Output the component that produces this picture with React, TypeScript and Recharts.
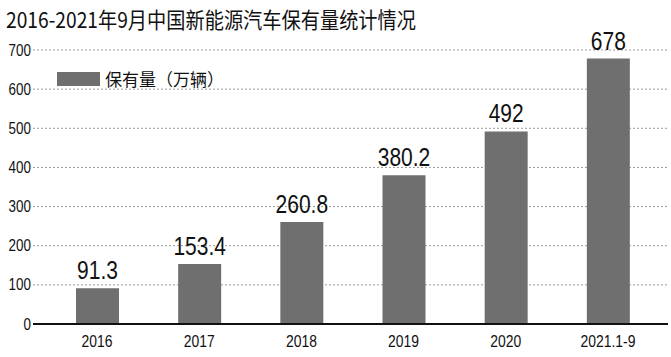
import { BarChart, Bar, XAxis, YAxis, CartesianGrid, LabelList } from 'recharts';

document.body.style.margin = '0';

const years = ['2016', '2017', '2018', '2019', '2020', '2021.1-9'];
const stock = [91.3, 153.4, 260.8, 380.2, 492, 678];
const yTicks = [0, 100, 200, 300, 400, 500, 600, 700];

const data = years.map((year, i) => ({ year, stock: stock[i] }));

const latin = '"Liberation Sans", Arial, sans-serif';
const cjk = '"Noto Sans CJK SC", sans-serif';

// narrow glyphs: squeeze text horizontally around its anchor
function SqueezedText({ x, y, value, size, anchor, dy, sx }: any) {
  return (
    <g transform={`translate(${x},${y}) scale(${sx},1)`}>
      <text x={0} y={0} dy={dy} textAnchor={anchor} fontSize={size} fontFamily={latin} fill="#111">
        {value}
      </text>
    </g>
  );
}

function XTick(props: any) {
  const { x, y, payload } = props;
  return <SqueezedText x={x} y={y} value={payload.value} size={17} anchor="middle" dy="0.71em" sx={0.82} />;
}

function YTick(props: any) {
  const { x, y, payload } = props;
  return <SqueezedText x={x} y={y} value={payload.value} size={16} anchor="end" dy="0.35em" sx={0.84} />;
}

function ValueLabel(props: any) {
  const { x, y, width, value } = props;
  return <SqueezedText x={x + width / 2} y={y - 9} value={value} size={25} anchor="middle" dy={0} sx={0.84} />;
}

export default function App() {
  return (
    <div style={{ position: 'relative', width: 671, height: 357, background: '#fff' }}>
      <svg width={671} height={40} style={{ position: 'absolute', left: 0, top: 0 }}>
        <text x={6} y={28} fontFamily={cjk} fontSize={22} fill="#111" textLength={410} lengthAdjust="spacingAndGlyphs">
          2016-2021年9月中国新能源汽车保有量统计情况
        </text>
      </svg>
      <div
        style={{
          position: 'absolute',
          left: 57,
          top: 66,
          zIndex: 2,
          display: 'flex',
          alignItems: 'center',
          fontFamily: cjk,
          fontSize: 17,
          color: '#111',
        }}
      >
        <span style={{ display: 'inline-block', width: 43, height: 14, background: '#6f6f6f', marginRight: 5 }} />
        保有量（万辆）
      </div>
      <BarChart width={671} height={357} data={data} margin={{ top: 50, right: 3, left: 0, bottom: 0 }}>
        <CartesianGrid vertical={false} stroke="#9a9a9a" strokeDasharray="2 2" />
        <XAxis
          dataKey="year"
          padding={{ left: 13, right: 9 }}
          height={33}
          tickSize={0}
          tickMargin={11}
          axisLine={{ stroke: '#111', strokeWidth: 2 }}
          tick={<XTick />}
        />
        <YAxis
          width={33}
          domain={[0, 700]}
          ticks={yTicks}
          tickSize={0}
          tickMargin={2}
          axisLine={false}
          tick={<YTick />}
        />
        <Bar dataKey="stock" name="保有量（万辆）" fill="#6f6f6f" barSize={43} isAnimationActive={false}>
          <LabelList dataKey="stock" content={<ValueLabel />} />
        </Bar>
      </BarChart>
    </div>
  );
}
